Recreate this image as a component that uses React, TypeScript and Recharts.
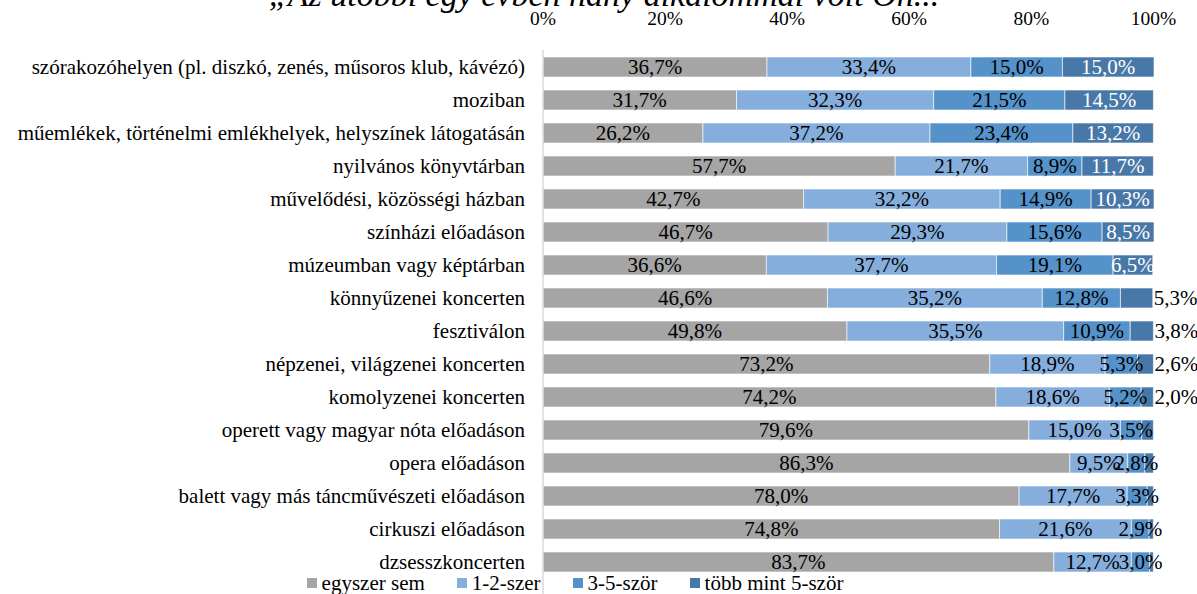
import React from "react";
import { BarChart, Bar, XAxis, YAxis, Legend, LabelList } from "recharts";

const title = "„Az utóbbi egy évben hány alkalommal volt Ön...";

const categories = [
  "szórakozóhelyen (pl. diszkó, zenés, műsoros klub, kávézó)",
  "moziban",
  "műemlékek, történelmi emlékhelyek, helyszínek látogatásán",
  "nyilvános könyvtárban",
  "művelődési, közösségi házban",
  "színházi előadáson",
  "múzeumban vagy képtárban",
  "könnyűzenei koncerten",
  "fesztiválon",
  "népzenei, világzenei koncerten",
  "komolyzenei koncerten",
  "operett vagy magyar nóta előadáson",
  "opera előadáson",
  "balett vagy más táncművészeti előadáson",
  "cirkuszi előadáson",
  "dzsesszkoncerten",
];

const egyszerSem = [36.7, 31.7, 26.2, 57.7, 42.7, 46.7, 36.6, 46.6, 49.8, 73.2, 74.2, 79.6, 86.3, 78.0, 74.8, 83.7];
const egyKetSzer = [33.4, 32.3, 37.2, 21.7, 32.2, 29.3, 37.7, 35.2, 35.5, 18.9, 18.6, 15.0, 9.5, 17.7, 21.6, 12.7];
const haromOtSzor = [15.0, 21.5, 23.4, 8.9, 14.9, 15.6, 19.1, 12.8, 10.9, 5.3, 5.2, 3.5, 2.8, 3.3, 2.9, 3.0];
const tobbMintOt = [15.0, 14.5, 13.2, 11.7, 10.3, 8.5, 6.5, 5.3, 3.8, 2.6, 2.0, 1.9, 1.4, 1.0, 0.7, 0.6];

const seriesNames = ["egyszer sem", "1-2-szer", "3-5-ször", "több mint 5-ször"];
const seriesKeys = ["s1", "s2", "s3", "s4"];
const seriesColors = ["#A5A5A5", "#85AEDC", "#5592CA", "#4878A8"];

const xTicks = [0, 20, 40, 60, 80, 100];

const data = categories.map((name, i) => ({
  name,
  s1: egyszerSem[i],
  s2: egyKetSzer[i],
  s3: haromOtSzor[i],
  s4: tobbMintOt[i],
}));

const FONT = "'Liberation Serif', 'Times New Roman', serif";
const FS = 21;
const TICK_FS = 19.5;

const fmt = (v: number) => v.toFixed(1).replace(".", ",") + "%";

const centerLabel = (props: any) => {
  const { x, y, width, height, value } = props;
  return (
    <text
      x={Number(x) + Number(width) / 2}
      y={Number(y) + Number(height) / 2}
      dy="0.35em"
      textAnchor="middle"
      fontSize={FS}
      fontFamily={FONT}
      fill="#000"
    >
      {fmt(Number(value))}
    </text>
  );
};

const lastLabel = (props: any) => {
  const { x, y, width, height, value } = props;
  const v = Number(value);
  if (v < 2) return null;
  if (v >= 6) {
    return (
      <text
        x={Number(x) + Number(width) / 2}
        y={Number(y) + Number(height) / 2}
        dy="0.35em"
        textAnchor="middle"
        fontSize={FS}
        fontFamily={FONT}
        fill="#FFFFFF"
      >
        {fmt(v)}
      </text>
    );
  }
  return (
    <text
      x={Number(x) + Number(width) + 1}
      y={Number(y) + Number(height) / 2}
      dy="0.35em"
      textAnchor="start"
      fontSize={FS}
      fontFamily={FONT}
      fill="#000"
    >
      {fmt(v)}
    </text>
  );
};

const YTick = (props: any) => {
  const { x, y, payload } = props;
  return (
    <text x={x} y={y} dy="0.35em" textAnchor="end" fontSize={FS} fontFamily={FONT} fill="#000">
      {payload.value}
    </text>
  );
};

const LegendContent = () => (
  <div
    style={{
      display: "flex",
      justifyContent: "center",
      alignItems: "center",
      fontFamily: FONT,
      fontSize: FS,
      lineHeight: "22px",
      color: "#000",
      whiteSpace: "nowrap",
    }}
  >
    {seriesNames.map((n, i) => (
      <span key={n} style={{ display: "inline-flex", alignItems: "center", marginRight: i < 3 ? 32 : 0 }}>
        <span style={{ display: "inline-block", width: 10, height: 10, background: seriesColors[i], marginRight: 5 }} />
        {n}
      </span>
    ))}
  </div>
);

export default function App() {
  return (
    <div style={{ position: "absolute", left: 0, top: 0, width: 1197, height: 594, overflow: "hidden", background: "#fff" }}>
      <div
        style={{
          position: "absolute",
          left: 0,
          top: -22,
          width: 1208,
          textAlign: "center",
          fontFamily: FONT,
          fontStyle: "italic",
          fontSize: 34,
          lineHeight: "34px",
          color: "#000",
          whiteSpace: "nowrap",
        }}
      >
        {title}
      </div>
      <BarChart
        width={1197}
        height={594}
        data={data}
        layout="vertical"
        margin={{ top: 20, right: 43, bottom: 0, left: 0 }}
        barSize={20}
      >
        <XAxis
          type="number"
          orientation="top"
          domain={[0, 100]}
          ticks={xTicks}
          tickFormatter={(v: number) => `${v}%`}
          axisLine={false}
          tickLine={false}
          tickSize={0}
          tickMargin={25}
          height={30}
          tick={{ fontSize: TICK_FS, fontFamily: FONT, fill: "#000" }}
          interval={0}
        />
        <YAxis
          type="category"
          dataKey="name"
          width={543}
          axisLine={{ stroke: "#D9D9D9", strokeWidth: 1.5 }}
          tickLine={false}
          tickSize={0}
          tickMargin={18}
          interval={0}
          padding={{ top: 0, bottom: 16 }}
          tick={<YTick />}
        />
        <Legend
          verticalAlign="middle"
          align="center"
          layout="horizontal"
          content={<LegendContent />}
          wrapperStyle={{ top: 572, left: 0, width: 1150, height: 22 }}
        />
        {seriesKeys.map((k, i) => (
          <Bar
            key={k}
            dataKey={k}
            name={seriesNames[i]}
            stackId="a"
            fill={seriesColors[i]}
            stroke="#FFFFFF"
            strokeWidth={0.6}
            isAnimationActive={false}
          >
            <LabelList dataKey={k} content={i === 3 ? lastLabel : centerLabel} />
          </Bar>
        ))}
      </BarChart>
    </div>
  );
}
